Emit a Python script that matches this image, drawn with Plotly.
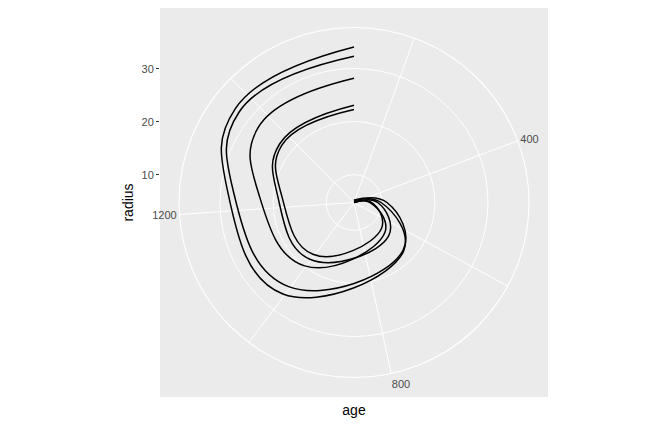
import plotly.graph_objects as go
import math

ages = [118, 484, 664, 1004, 1231, 1372, 1582]
trees = {
    "1": [30, 58, 87, 115, 120, 142, 145],
    "2": [33, 69, 111, 156, 172, 203, 203],
    "3": [30, 51, 75, 108, 115, 139, 140],
    "4": [32, 62, 112, 167, 179, 209, 214],
    "5": [30, 49, 81, 125, 142, 174, 177],
}
age_ticks = [200, 400, 600, 800, 1000, 1200, 1400]
age_labels = ["", "400", "", "800", "", "1200", ""]
r_ticks = [10, 20, 30]

amin, amax = min(ages), max(ages)
to_deg = lambda a: (a - amin) / (amax - amin) * 360
radii = {k: [c / (2 * math.pi) for c in v] for k, v in trees.items()}
rmin = min(min(v) for v in radii.values())
rmax = max(max(v) for v in radii.values())
r_outer = rmin + (rmax - rmin) * 0.45 / 0.4

fig = go.Figure()
for k, rv in radii.items():
    fig.add_trace(go.Scatterpolar(r=rv, theta=[to_deg(a) for a in ages], mode="lines",
                                  line=dict(color="black", width=1.5, shape="spline", smoothing=1.3),
                                  showlegend=False, hoverinfo="skip"))
fig.add_trace(go.Scatter(x=[0], y=[10], mode="markers", marker=dict(opacity=0), showlegend=False, hoverinfo="skip"))

OFF = 8  # default page body margin
W, H = 672 - OFF, 432 - OFF
cx, cy, R = 354 - OFF, 202.5 - OFF, 175
px_per = 155 / (rmax - rmin)
top, bot, left, right = 8 - OFF, 397 - OFF, 160 - OFF, 548 - OFF
fig.update_layout(
    width=W, height=H, margin=dict(l=0, r=0, t=0, b=0),
    paper_bgcolor="white", plot_bgcolor="rgba(0,0,0,0)",
    font=dict(family="Liberation Sans, Arial", color="#4d4d4d", size=11),
    shapes=[dict(type="rect", xref="paper", yref="paper", x0=left / W, x1=right / W,
                 y0=1 - bot / H, y1=1 - top / H, fillcolor="#ebebeb", line_width=0, layer="below")],
    polar=dict(
        domain=dict(x=[(cx - R) / W, (cx + R) / W], y=[1 - (cy + R) / H, 1 - (cy - R) / H]),
        bgcolor="rgba(0,0,0,0)",
        radialaxis=dict(range=[rmin, r_outer], tickvals=r_ticks, showticklabels=False, ticks="",
                        gridcolor="white", gridwidth=1.1, showline=False),
        angularaxis=dict(rotation=90, direction="clockwise", tickvals=[to_deg(a) for a in age_ticks],
                         ticktext=age_labels, ticks="", gridcolor="white", gridwidth=1,
                         linecolor="white", linewidth=1.1, tickfont=dict(size=11, color="#4d4d4d")),
    ),
    xaxis=dict(domain=[left / W, right / W], range=[-1, 1], showticklabels=False, showgrid=False,
               zeroline=False, ticks="", title=dict(text="age", font=dict(size=14, color="black"), standoff=8)),
    yaxis=dict(domain=[1 - bot / H, 1 - top / H],
               range=[rmin - (bot - cy) / px_per, rmin + (cy - top) / px_per],
               tickvals=r_ticks, ticks="outside", ticklen=3, tickcolor="#333333",
               showgrid=False, zeroline=False, tickfont=dict(size=11, color="#4d4d4d"),
               title=dict(text="radius", font=dict(size=14, color="black"), standoff=4)),
)
fig.write_html("out.html")
